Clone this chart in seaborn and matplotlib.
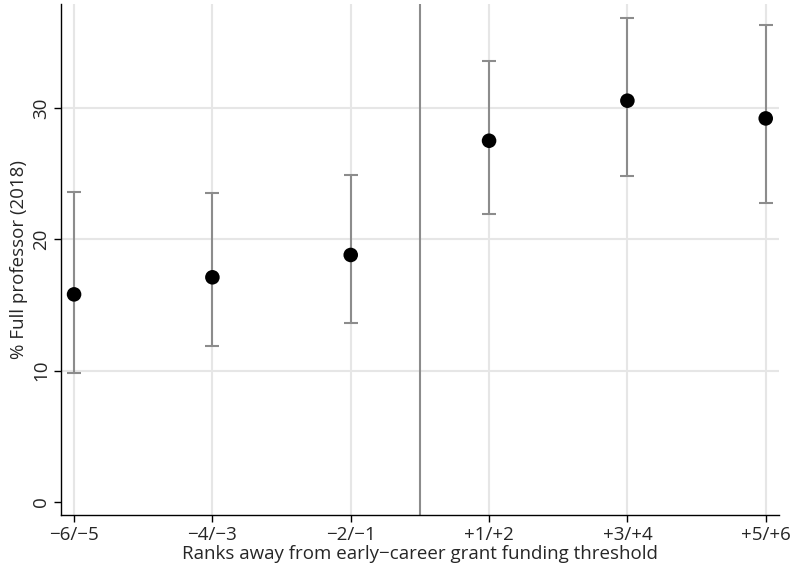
import numpy as np
import pandas as pd
import seaborn as sns
import matplotlib.pyplot as plt

ranks = ["\u22126/\u22125", "\u22124/\u22123", "\u22122/\u22121", "+1/+2", "+3/+4", "+5/+6"]
share = [15.8, 17.1, 18.8, 27.5, 30.55, 29.2]
ci_low = [9.85, 11.9, 13.6, 21.95, 24.8, 22.75]
ci_high = [23.6, 23.55, 24.9, 33.6, 36.85, 36.3]

df = pd.DataFrame({"rank": ranks, "pos": np.arange(len(ranks)),
                   "share": share, "lo": ci_low, "hi": ci_high})

sns.set_style("white")
plt.rcParams['font.family'] = ['Open Sans', 'DejaVu Sans']
fs = 13.5

fig = plt.figure(figsize=(7.93, 5.72), dpi=100)
ax = fig.add_axes([0.077, 0.0997, 0.905, 0.893])

# grid
for y in [10, 20, 30]:
    ax.axhline(y, color="#e6e6e6", lw=1.5, zorder=0)
for x in df["pos"]:
    ax.axvline(x, color="#e6e6e6", lw=1.5, zorder=0)

ax.axvline(2.5, color="#8c8c8c", lw=1.5, zorder=1)

ax.errorbar(df["pos"], df["share"],
            yerr=[df["share"] - df["lo"], df["hi"] - df["share"]],
            fmt="none", ecolor="#8c8c8c", elinewidth=1.5, capsize=5, capthick=1.5, zorder=2)
sns.scatterplot(data=df, x="pos", y="share", color="black", s=110, edgecolor="none",
                ax=ax, zorder=3)

ax.set_xlim(-0.094, 5.094)
ax.set_ylim(-1, 37.9)
ax.set_xticks(df["pos"])
ax.set_xticklabels(ranks, fontsize=fs)
ax.set_yticks([0, 10, 20, 30])
ax.set_yticklabels(["0", "10", "20", "30"], fontsize=fs, rotation=90, va="center")
ax.tick_params(axis="both", direction="out", length=5, width=1, color="black",
               left=True, bottom=True, pad=3)
ax.set_xlabel("Ranks away from early\u2212career grant funding threshold", fontsize=fs, labelpad=1)
ax.set_ylabel("% Full professor (2018)", fontsize=fs, labelpad=3)

for s in ["top", "right"]:
    ax.spines[s].set_visible(False)
for s in ["left", "bottom"]:
    ax.spines[s].set_color("black")
    ax.spines[s].set_linewidth(1)

fig.savefig("out.png", dpi=100)
